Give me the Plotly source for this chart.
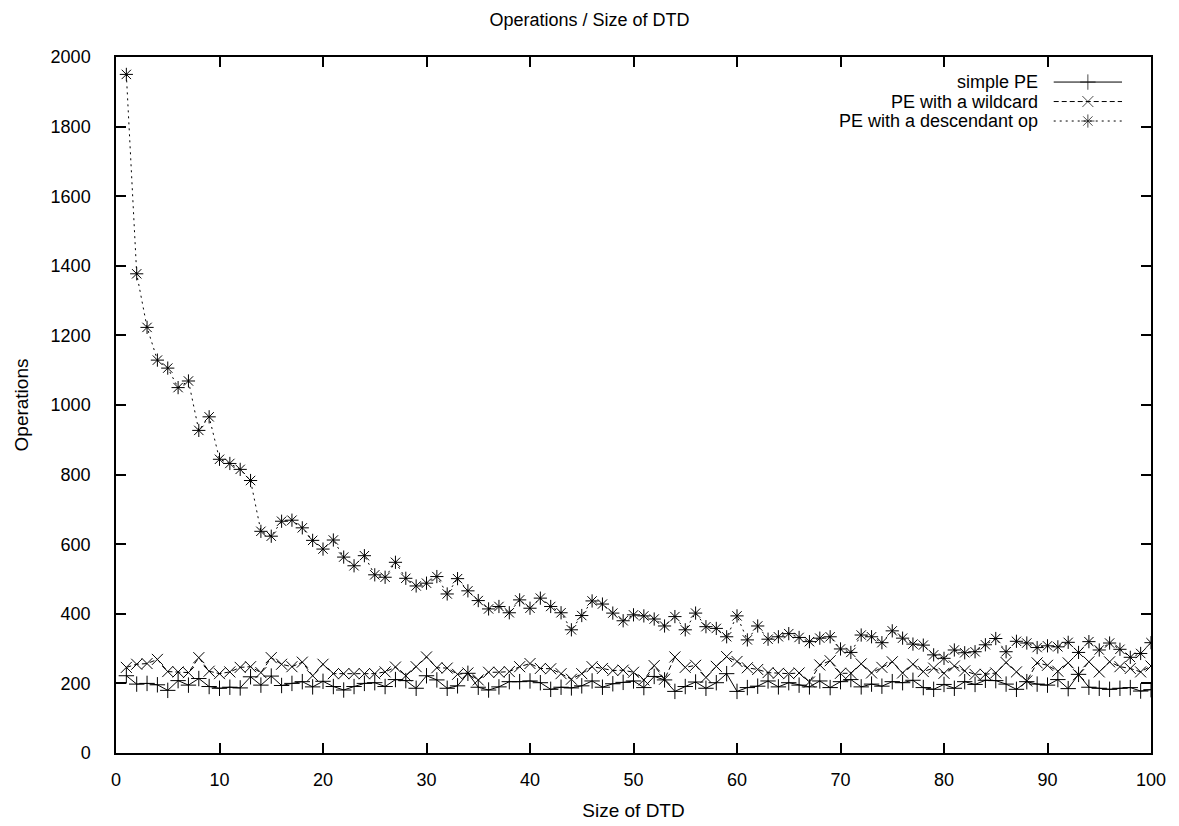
import plotly.graph_objects as go

sizes = list(range(1, 101))

simple_pe = [222, 198, 200, 196, 180, 208, 195, 214, 191, 186,
             189, 187, 219, 195, 221, 194, 200, 205, 190, 206,
             191, 181, 191, 200, 202, 191, 211, 208, 186, 222,
             210, 186, 193, 229, 189, 181, 190, 205, 205, 207,
             202, 183, 189, 187, 193, 207, 189, 199, 203, 207,
             188, 220, 210, 177, 191, 204, 186, 202, 228, 177,
             188, 192, 207, 190, 202, 195, 190, 207, 188, 205,
             211, 190, 198, 192, 205, 202, 209, 188, 183, 197,
             186, 205, 197, 209, 208, 198, 183, 205, 198, 195,
             211, 185, 226, 189, 186, 183, 186, 188, 178, 182]

wildcard_pe = [246, 255, 257, 269, 234, 233, 231, 274, 235, 228,
               233, 246, 248, 231, 274, 255, 248, 261, 222, 255,
               228, 228, 228, 228, 228, 233, 247, 222, 248, 276,
               245, 244, 226, 230, 210, 232, 232, 234, 248, 257,
               243, 242, 228, 212, 228, 248, 243, 237, 238, 232,
               210, 251, 212, 276, 246, 252, 217, 249, 277, 263,
               245, 240, 231, 229, 228, 230, 204, 253, 265, 229,
               229, 256, 230, 246, 262, 230, 255, 234, 244, 229,
               250, 236, 226, 226, 230, 260, 233, 207, 259, 252,
               235, 259, 225, 262, 233, 262, 248, 243, 233, 250]

descendant_pe = [1950, 1377, 1223, 1129, 1106, 1050, 1069, 927, 966, 844,
                 832, 815, 783, 637, 623, 666, 669, 647, 611, 586,
                 612, 563, 538, 567, 512, 505, 548, 502, 480, 488,
                 507, 457, 501, 466, 438, 414, 421, 403, 440, 416,
                 445, 421, 403, 354, 395, 437, 428, 402, 380, 397,
                 394, 385, 365, 392, 354, 402, 363, 358, 334, 394,
                 325, 365, 327, 334, 343, 332, 320, 330, 334, 299,
                 289, 339, 334, 317, 351, 330, 313, 310, 282, 272,
                 296, 288, 291, 311, 329, 291, 321, 316, 303, 308,
                 305, 318, 289, 320, 296, 316, 298, 275, 286, 317]

series_names = ["simple PE", "PE with a wildcard", "PE with a descendant op"]
series_values = [simple_pe, wildcard_pe, descendant_pe]
series_symbols = ["cross-thin", "x-thin", "asterisk-open"]
series_dash = ["solid", "5px,3px", "2px,4px"]

x_ticks = list(range(0, 101, 10))
y_ticks = list(range(0, 2001, 200))

FONT = "Liberation Sans, Arial, Helvetica, sans-serif"
MSIZE = 11

fig = go.Figure()
for name, vals, sym, dash in zip(series_names, series_values, series_symbols, series_dash):
    fig.add_trace(go.Scatter(
        x=sizes, y=vals, name=name, mode="lines+markers",
        line=dict(color="black", width=1, dash=dash),
        marker=dict(symbol=sym, size=MSIZE, color="black",
                    line=dict(color="black", width=1)),
        showlegend=False,
    ))

# custom gnuplot-style key: text on the left, sample on the right
key_text_right = 0.893
key_sample = [0.906, 0.972]
key_top = 0.964
key_step = 0.028
for i, (name, sym, dash) in enumerate(zip(series_names, series_symbols, series_dash)):
    yk = key_top - i * key_step
    fig.add_annotation(x=key_text_right, y=yk, xref="paper", yref="paper",
                       text=name, showarrow=False, xanchor="right", yanchor="middle",
                       font=dict(family=FONT, size=18, color="black"))
    fig.add_trace(go.Scatter(
        x=[key_sample[0], (key_sample[0] + key_sample[1]) / 2, key_sample[1]],
        y=[yk, yk, yk], xaxis="x2", yaxis="y2", mode="lines+markers",
        line=dict(color="black", width=1, dash=dash),
        marker=dict(symbol=sym, size=[0, MSIZE, 0], color="black",
                    line=dict(color="black", width=1)),
        showlegend=False, hoverinfo="skip",
    ))

axis_common = dict(
    showline=True, linecolor="black", linewidth=1.5, mirror="allticks",
    ticks="inside", ticklen=10, tickwidth=1.5, tickcolor="black",
    showgrid=False, zeroline=False, automargin=False,
    tickfont=dict(family=FONT, size=18, color="black"),
)

fig.update_layout(
    width=1179, height=826,
    margin=dict(l=116, r=28, t=57, b=73),
    paper_bgcolor="white", plot_bgcolor="white",
    title=dict(text="Operations / Size of DTD", x=0.5, xanchor="center",
               y=1 - 20 / 826, yanchor="middle",
               font=dict(family=FONT, size=18, color="black")),
    xaxis=dict(range=[0, 100], tickvals=x_ticks,
               title=dict(text="Size of DTD", font=dict(family=FONT, size=19, color="black"), standoff=14),
               ticklabelstandoff=10, **axis_common),
    yaxis=dict(range=[0, 2000], tickvals=y_ticks,
               title=dict(text="Operations", font=dict(family=FONT, size=19, color="black"), standoff=17),
               ticklabelstandoff=20, **axis_common),
    xaxis2=dict(overlaying="x", range=[0, 1], visible=False, anchor="y2"),
    yaxis2=dict(overlaying="y", range=[0, 1], visible=False, anchor="x2"),
    showlegend=False,
)

fig.write_html("out.html")
